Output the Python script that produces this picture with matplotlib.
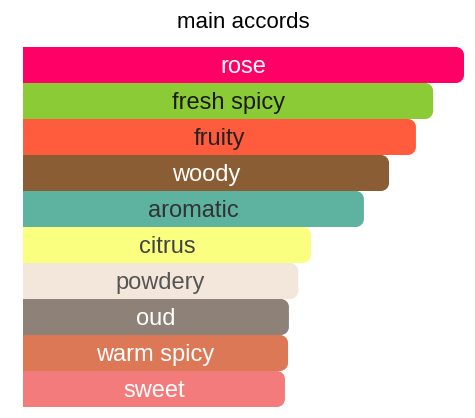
import matplotlib
matplotlib.use("Agg")
import matplotlib.pyplot as plt
from matplotlib.path import Path
from matplotlib.patches import PathPatch

plt.rcParams['font.family'] = ['Liberation Sans', 'DejaVu Sans']

# main accords, strength in percent (widest = 100)
accords = ['rose', 'fresh spicy', 'fruity', 'woody', 'aromatic',
           'citrus', 'powdery', 'oud', 'warm spicy', 'sweet']
values = [100, 93.0, 89.1, 83.0, 77.3, 65.3, 62.4, 60.3, 60.1, 59.4]
bar_colors = ['#FF0066', '#8BCC36', '#FF5B3D', '#8A5D34', '#5DB2A0',
              '#FAFF80', '#F3E7DC', '#8E8178', '#DD7856', '#F47B7B']
text_colors = ['#FFFFFF', '#1A1A1A', '#222222', '#FFFFFF', '#333333',
               '#444444', '#555555', '#FFFFFF', '#FFFFFF', '#FFFFFF']

W, H = 475, 418
fig = plt.figure(figsize=(W / 100, H / 100), dpi=100)
# bars start at x=23px, 100% = 441px; rows from y=47px to 407px
ax = fig.add_axes([23 / W, 11 / H, 441 / W, 360 / H])
ax.set_xlim(0, 100)
ax.set_ylim(len(accords) - 0.5, -0.5)
ax.axis('off')

# pixel size of one data unit, for the corner radius
px_x = 441 / 100
px_y = 360 / len(accords)
r_px = 8
rx = r_px / px_x
ry = r_px / px_y
k = 0.5523

def right_rounded(x1, y0, y1):
    # rectangle from x=0 to x1, rounded on the right side only
    verts = [(0, y0), (x1 - rx, y0),
             (x1 - rx + k * rx, y0), (x1, y0 + ry - k * ry), (x1, y0 + ry),
             (x1, y1 - ry),
             (x1, y1 - ry + k * ry), (x1 - rx + k * rx, y1), (x1 - rx, y1),
             (0, y1), (0, y0)]
    codes = [Path.MOVETO, Path.LINETO,
             Path.CURVE4, Path.CURVE4, Path.CURVE4,
             Path.LINETO,
             Path.CURVE4, Path.CURVE4, Path.CURVE4,
             Path.LINETO, Path.CLOSEPOLY]
    return Path(verts, codes)

for i, (name, v) in enumerate(zip(accords, values)):
    p = PathPatch(right_rounded(v, i - 0.5, i + 0.5),
                  facecolor=bar_colors[i], edgecolor='none')
    ax.add_patch(p)
    ax.text(v / 2, i + 0.05, name, ha='center', va='center',
            fontsize=17, color=text_colors[i])

fig.text(243 / W, 1 - 22.5 / H, 'main accords', ha='center', va='center',
         fontsize=16, color='#000000')

fig.savefig('out.png', dpi=100)
